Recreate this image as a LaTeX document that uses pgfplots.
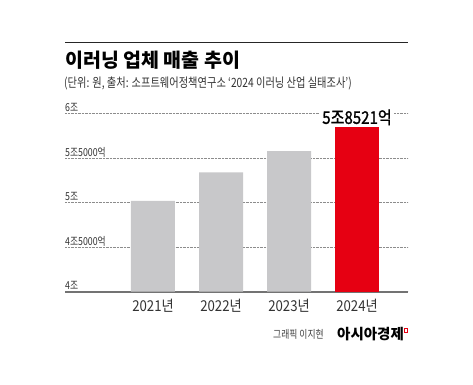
\documentclass[border=0pt]{standalone}
\usepackage{fontspec}
\usepackage{pgfplots}
\pgfplotsset{compat=1.18}
\setmainfont{Noto Sans CJK KR}
\newfontfamily\cond[FakeStretch=0.8]{Noto Sans CJK KR}
\newfontfamily\condb[FakeStretch=0.88]{Noto Sans CJK KR}
\newfontfamily\condm[FakeStretch=0.86,FakeBold=1.2]{Noto Sans CJK KR}
\definecolor{barGray}{HTML}{C8C8CA}
\definecolor{barRed}{HTML}{E60012}
\definecolor{txt}{HTML}{333333}
\begin{document}
\begin{tikzpicture}[x=1pt,y=1pt]
\path[use as bounding box] (0,0) rectangle (473,384);
\draw[line width=1.1pt, color=black!85] (65,341.5) -- (408,341.5);
\node[anchor=base west, inner sep=0pt, font=\bfseries\fontsize{19.5}{20}\selectfont] at (65,317) {이러닝 업체 매출 추이};
\node[anchor=base west, inner sep=0pt, font=\cond\fontsize{12.8}{13}\selectfont, text=txt] at (64,297) {(단위: 원, 출처: 소프트웨어정책연구소 ‘2024 이러닝 산업 실태조사’)};
\begin{axis}[
  at={(65pt,92.3pt)}, anchor=south west, scale only axis,
  width=343pt, height=200.25pt,
  xmin=-1.294, xmax=3.75, ymin=4, ymax=6.25,
  axis x line*=bottom, axis y line*=left,
  x axis line style={-, draw=black!55, line width=1.6pt},
  y axis line style={draw=none},
  major tick length=0pt,
  xtick={0,1,2,3},
  xticklabels={2021년,2022년,2023년,2024년},
  xticklabel style={anchor=base, inner sep=0pt, yshift=-20pt, font=\condb\fontsize{15}{15}\selectfont, text=txt},
  ytick={4,4.5,5,5.5,6},
  yticklabels={4조,4조5000억,5조,5조5000억,6조},
  yticklabel style={anchor=base west, inner sep=0pt, yshift=2pt, font=\cond\fontsize{11}{11}\selectfont, text=txt},
  ymajorgrids,
  major grid style={densely dotted, draw=black!45, line width=0.6pt},
  clip=true,
]
\addplot[ybar, bar width=44pt, bar shift=0pt, fill=barGray, draw=none] coordinates {(0,5.02) (1,5.34) (2,5.58)};
\addplot[ybar, bar width=44pt, bar shift=0pt, fill=barRed, draw=none] coordinates {(3,5.8521)};
\node[anchor=base, yshift=3pt, fill=white, inner xsep=2pt, inner ysep=0pt, font=\condm\fontsize{17.5}{18}\selectfont] at (axis cs:3,5.8521) {5조8521억};
\end{axis}
\node[anchor=base west, inner sep=0pt, font=\cond\fontsize{11}{11}\selectfont, text=black!75] at (273,46) {그래픽 이지현};
\node[anchor=base west, inner sep=0pt, font=\bfseries\fontsize{14.5}{15}\selectfont] at (337,44.5) {아시아경제};
\draw[barRed, line width=0.9pt] (404.5,52) rectangle (407.5,56);
\end{tikzpicture}
\end{document}
